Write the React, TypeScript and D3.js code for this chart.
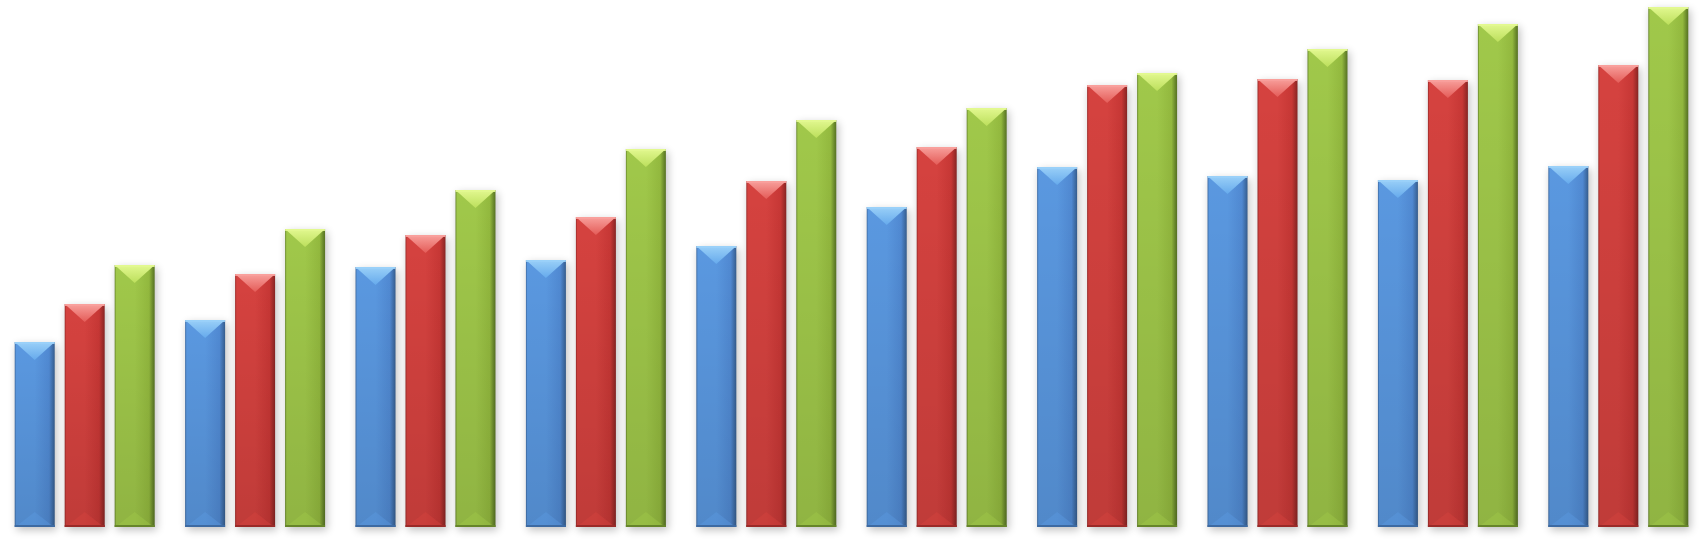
import React, { useEffect, useRef } from 'react';
import * as d3 from 'd3';

// Ten groups of three series (arbitrary units)
const categories = ['1', '2', '3', '4', '5', '6', '7', '8', '9', '10'];
const seriesNames = ['Series 1', 'Series 2', 'Series 3'];
const series1 = [185, 207, 260, 267, 281, 320, 360, 351, 347, 361];
const series2 = [223, 253, 292, 310, 346, 380, 442, 448, 447, 462];
const series3 = [262, 298, 337, 378, 407, 419, 454, 478, 503, 520];

const WIDTH = 1703;
const HEIGHT = 550;

// edge / base / highlight / bevel top colours
const palette = [
  { edge: '#3d6aa2', base: '#5089d2', light: '#5a98e0', top: '#9ad0f8', topEnd: '#66aaec' }, // blue
  { edge: '#9a2a28', base: '#c73735', light: '#d5423f', top: '#f8a09c', topEnd: '#e45c58' }, // red
  { edge: '#66852a', base: '#93b93e', light: '#a0c84a', top: '#e2f890', topEnd: '#bcdf5c' }, // green
];

const App: React.FC = () => {
  const svgRef = useRef<SVGSVGElement>(null);

  useEffect(() => {
    if (!svgRef.current) return;
    const svg = d3.select(svgRef.current);
    svg.selectAll('*').remove();

    const values = [series1, series2, series3];

    const x0 = d3.scaleBand<string>()
      .domain(categories)
      .range([0, WIDTH])
      .paddingInner(0.12)
      .paddingOuter(0.057);

    const x1 = d3.scaleBand<string>()
      .domain(seriesNames)
      .range([0, x0.bandwidth()])
      .paddingInner(0.2)
      .paddingOuter(0.1);

    const y = d3.scaleLinear().domain([0, 520]).range([527, 7]);

    const defs = svg.append('defs');

    // soft shadow
    const shadow = defs.append('filter')
      .attr('id', 'shadow')
      .attr('x', '-50%').attr('y', '-10%')
      .attr('width', '200%').attr('height', '120%');
    shadow.append('feGaussianBlur').attr('stdDeviation', 4);

    palette.forEach((p, i) => {
      // horizontal shading of the face
      const g = defs.append('linearGradient')
        .attr('id', `face${i}`)
        .attr('x1', '0').attr('x2', '1').attr('y1', '0').attr('y2', '0');
      g.append('stop').attr('offset', '0%').attr('stop-color', p.edge);
      g.append('stop').attr('offset', '4%').attr('stop-color', p.light);
      g.append('stop').attr('offset', '50%').attr('stop-color', p.light);
      g.append('stop').attr('offset', '86%').attr('stop-color', p.base);
      g.append('stop').attr('offset', '96%').attr('stop-color', p.edge);
      g.append('stop').attr('offset', '100%').attr('stop-color', d3.color(p.edge)!.darker(0.4).formatHex());

      // top bevel triangle
      const t = defs.append('linearGradient')
        .attr('id', `top${i}`)
        .attr('x1', '0').attr('x2', '0').attr('y1', '0').attr('y2', '1');
      t.append('stop').attr('offset', '0%').attr('stop-color', p.top);
      t.append('stop').attr('offset', '100%').attr('stop-color', p.topEnd);
    });

    // slight darkening toward the bottom
    const shade = defs.append('linearGradient')
      .attr('id', 'shade')
      .attr('x1', '0').attr('x2', '0').attr('y1', '0').attr('y2', '1');
    shade.append('stop').attr('offset', '0%').attr('stop-color', '#000').attr('stop-opacity', 0);
    shade.append('stop').attr('offset', '100%').attr('stop-color', '#000').attr('stop-opacity', 0.1);

    svg.append('rect').attr('width', WIDTH).attr('height', HEIGHT).attr('fill', '#ffffff');

    const bw = x1.bandwidth();
    const bevel = 18;

    categories.forEach((cat, ci) => {
      const group = svg.append('g').attr('transform', `translate(${x0(cat)},0)`);
      seriesNames.forEach((name, si) => {
        const v = values[si][ci];
        const bx = x1(name)!;
        const top = y(v);
        const bottom = y(0);
        const h = bottom - top;
        const p = palette[si];
        const bar = group.append('g');

        bar.append('rect')
          .attr('x', bx + 2).attr('y', top + 3)
          .attr('width', bw).attr('height', h)
          .attr('fill', '#000').attr('opacity', 0.25)
          .attr('filter', 'url(#shadow)');

        bar.append('rect')
          .attr('x', bx).attr('y', top)
          .attr('width', bw).attr('height', h)
          .attr('fill', `url(#face${si})`);

        bar.append('rect')
          .attr('x', bx).attr('y', top)
          .attr('width', bw).attr('height', h)
          .attr('fill', 'url(#shade)');

        // top bevel
        bar.append('path')
          .attr('d', `M${bx},${top}L${bx + bw},${top}L${bx + bw / 2},${top + bevel}Z`)
          .attr('fill', `url(#top${si})`);
        bar.append('rect')
          .attr('x', bx).attr('y', top)
          .attr('width', bw).attr('height', 2)
          .attr('fill', p.top).attr('opacity', 0.9);

        // bottom bevel
        bar.append('path')
          .attr('d', `M${bx + 2},${bottom - 1}L${bx + bw - 2},${bottom - 1}L${bx + bw / 2},${bottom - 15}Z`)
          .attr('fill', p.light).attr('opacity', 0.45);
        bar.append('rect')
          .attr('x', bx).attr('y', bottom - 2)
          .attr('width', bw).attr('height', 2)
          .attr('fill', p.edge);
      });
    });
  }, []);

  return (
    <svg
      ref={svgRef}
      width={WIDTH}
      height={HEIGHT}
      viewBox={`0 0 ${WIDTH} ${HEIGHT}`}
      style={{ position: 'absolute', left: 0, top: 0, display: 'block' }}
    />
  );
};

export default App;
